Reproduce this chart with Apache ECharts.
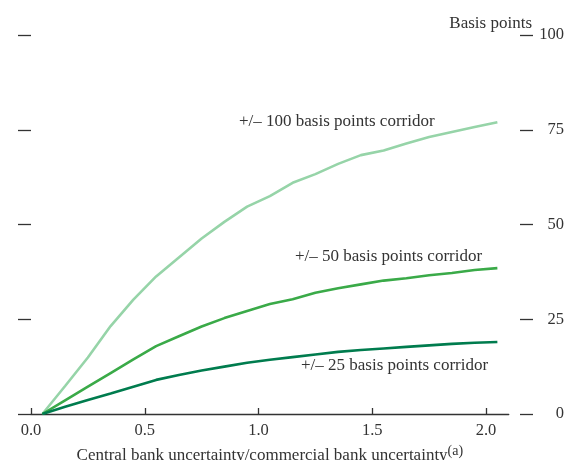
<!DOCTYPE html>
<html>
<head>
<meta charset="utf-8">
<script src="https://cdn.jsdelivr.net/npm/echarts@6/dist/echarts.min.js"></script>
<style>
  html, body { margin: 0; padding: 0; background: #fff; }
  #chart { width: 567px; height: 460px; }
</style>
</head>
<body>
<div id="chart"></div>
<script>
// Ratio of central bank to commercial bank uncertainty (x)
const ratios = [0.05, 0.15, 0.25, 0.35, 0.45, 0.55, 0.65, 0.75, 0.85, 0.95, 1.05,
                1.15, 1.25, 1.35, 1.45, 1.55, 1.65, 1.75, 1.85, 1.95, 2.05];

// Basis points, one curve per corridor width
const corridor100 = [0, 7.4, 14.9, 23.2, 30.2, 36.3, 41.3, 46.3, 50.7, 54.7, 57.5,
                     61, 63.3, 66, 68.3, 69.5, 71.4, 73.1, 74.4, 75.7, 77];
const corridor50  = [0, 3.6, 7.2, 10.8, 14.4, 17.9, 20.5, 23.1, 25.3, 27.2, 29,
                     30.3, 32, 33.2, 34.2, 35.2, 35.8, 36.6, 37.2, 38, 38.5];
const corridor25  = [0, 1.9, 3.7, 5.4, 7.2, 9, 10.3, 11.5, 12.5, 13.5, 14.3,
                     15, 15.7, 16.4, 16.9, 17.3, 17.7, 18.1, 18.5, 18.8, 19];

const seriesNames = ['+/\u2013 100 basis points corridor',
                     '+/\u2013 50 basis points corridor',
                     '+/\u2013 25 basis points corridor'];
const xTicks = [0, 0.5, 1.0, 1.5, 2.0];
const yTicks = [0, 25, 50, 75, 100];

const FONT = 'Liberation Serif';
const TEXT = '#333333';
const pairs = (xs, ys) => xs.map((x, i) => [x, ys[i]]);

const chart = echarts.init(document.getElementById('chart'), null, { renderer: 'canvas' });

chart.setOption({
  animation: false,
  backgroundColor: '#ffffff',
  textStyle: { fontFamily: FONT, color: TEXT },
  grid: { left: 31, top: 35, width: 477.75, height: 379, containLabel: false, outerBoundsMode: 'none' },
  title: {
    text: 'Basis points',
    right: 30, top: 10,
    textStyle: { fontFamily: FONT, fontSize: 17, fontWeight: 'normal', color: TEXT }
  },
  xAxis: {
    type: 'value',
    min: 0, max: 2.1, interval: 0.5,
    axisLine: { show: true, lineStyle: { color: '#333', width: 1.3 } },
    axisTick: { show: true, inside: true, length: 6, lineStyle: { color: '#333', width: 1.3 },
                customValues: xTicks },
    axisLabel: { fontFamily: FONT, fontSize: 16.5, color: TEXT, margin: 8,
                 customValues: xTicks,
                 formatter: v => v.toFixed(1) },
    splitLine: { show: false },
    name: '{m|Central bank uncertainty/commercial bank uncertainty}{s|(a)}',
    nameLocation: 'middle',
    nameGap: 28,
    nameTextStyle: {
      rich: {
        m: { fontFamily: FONT, fontSize: 17, color: TEXT, verticalAlign: 'bottom', lineHeight: 20 },
        s: { fontFamily: FONT, fontSize: 14, color: TEXT, verticalAlign: 'top', lineHeight: 20, padding: [0, 0, 7, 0] }
      }
    }
  },
  yAxis: [
    {
      type: 'value', position: 'left', offset: 9,
      min: 0, max: 100, interval: 25,
      axisLine: { show: false },
      axisTick: { show: true, inside: false, length: 13, lineStyle: { color: '#333', width: 1.3 } },
      axisLabel: { show: false },
      splitLine: { show: false }
    },
    {
      type: 'value', position: 'right', offset: 11.25,
      min: 0, max: 100, interval: 25,
      axisLine: { show: false },
      axisTick: { show: true, inside: false, length: 13, lineStyle: { color: '#333', width: 1.3 } },
      axisLabel: { fontFamily: FONT, fontSize: 16.5, color: TEXT, margin: 44, align: 'right' },
      splitLine: { show: false }
    }
  ],
  series: [
    { name: seriesNames[0], type: 'line', data: pairs(ratios, corridor100),
      showSymbol: false, lineStyle: { color: 'rgb(150,212,168)', width: 2.6 }, z: 2 },
    { name: seriesNames[1], type: 'line', data: pairs(ratios, corridor50),
      showSymbol: false, lineStyle: { color: 'rgb(58,170,72)', width: 2.6 }, z: 3 },
    { name: seriesNames[2], type: 'line', data: pairs(ratios, corridor25),
      showSymbol: false, lineStyle: { color: 'rgb(0,124,78)', width: 2.6 }, z: 4 }
  ],
  graphic: [
    { type: 'text', left: 239, top: 113,
      style: { text: seriesNames[0], font: '17px "' + FONT + '"', fill: TEXT } },
    { type: 'text', left: 295, top: 248,
      style: { text: seriesNames[1], font: '17px "' + FONT + '"', fill: TEXT } },
    { type: 'text', left: 301, top: 357,
      style: { text: seriesNames[2], font: '17px "' + FONT + '"', fill: TEXT } }
  ]
});
</script>
</body>
</html>
